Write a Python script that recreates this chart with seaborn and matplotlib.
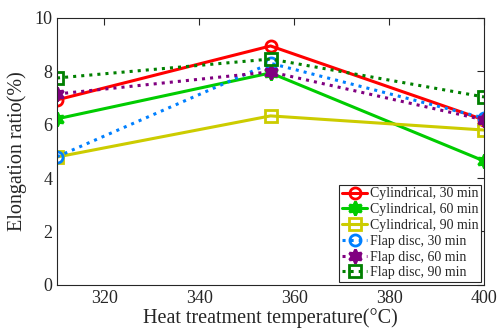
import matplotlib
matplotlib.use("Agg")
import matplotlib.pyplot as plt
import numpy as np
import pandas as pd
import seaborn as sns

temps = [310, 355, 400]
cyl_30 = [6.93, 8.95, 6.18]
cyl_60 = [6.22, 7.94, 4.64]
cyl_90 = [4.79, 6.33, 5.80]
flap_30 = [4.80, 8.30, 6.25]
flap_60 = [7.15, 7.98, 6.18]
flap_90 = [7.75, 8.46, 7.04]

labels = [
    "Cylindrical, 30 min",
    "Cylindrical, 60 min",
    "Cylindrical, 90 min",
    "Flap disc, 30 min",
    "Flap disc, 60 min",
    "Flap disc, 90 min",
]
series = [cyl_30, cyl_60, cyl_90, flap_30, flap_60, flap_90]

# hexagram-ish marker for the 60 min series
hexa = (6, 1, 0)
styles = {
    "Cylindrical, 30 min": dict(color="#FF0000", marker="o", ls="-", mfc="none", ms=8),
    "Cylindrical, 60 min": dict(color="#00CC00", marker=hexa, ls="-", mfc="#00CC00", ms=10),
    "Cylindrical, 90 min": dict(color="#CCCC00", marker="s", ls="-", mfc="none", ms=8),
    "Flap disc, 30 min": dict(color="#0080FF", marker="o", ls=":", mfc="none", ms=8),
    "Flap disc, 60 min": dict(color="#800080", marker=hexa, ls=":", mfc="#800080", ms=10),
    "Flap disc, 90 min": dict(color="#008000", marker="s", ls=":", mfc="none", ms=8),
}

df = pd.DataFrame(
    [(t, v, lab) for lab, vals in zip(labels, series) for t, v in zip(temps, vals)],
    columns=["temp", "elong", "group"],
)

sns.set_style("white")
plt.rcParams["font.family"] = ["Liberation Serif", "DejaVu Serif"]

fig = plt.figure(figsize=(4.98, 3.32), dpi=100)
ax = fig.add_axes([0.1145, 0.142, 0.8575, 0.804])

for lab in labels:
    st = styles[lab]
    sub = df[df["group"] == lab]
    sns.lineplot(
        data=sub, x="temp", y="elong", ax=ax, label=lab,
        color=st["color"], linestyle=st["ls"], linewidth=2.2,
        marker=st["marker"], markersize=st["ms"], markerfacecolor=st["mfc"],
        markeredgecolor=st["color"], markeredgewidth=2,
    )

ax.set_xlim(310, 400)
ax.set_ylim(0, 10)
ax.set_xticks([320, 340, 360, 380, 400])
ax.set_yticks([0, 2, 4, 6, 8, 10])
ax.set_xlabel("Heat treatment temperature(°C)", fontsize=14.5, labelpad=1, color="#262626")
ax.set_ylabel("Elongation ratio(%)", fontsize=14.5, labelpad=5, color="#262626")
ax.tick_params(direction="in", top=True, right=True, labelsize=13, length=5, width=0.8,
               labelcolor="#262626")
for sp in ax.spines.values():
    sp.set_color("#262626")
    sp.set_linewidth(0.8)

leg = ax.legend(loc="lower right", fontsize=10, frameon=True, fancybox=False,
                borderpad=0.2, labelspacing=0.2, handlelength=1.8,
                handletextpad=0.2, borderaxespad=0.2)
leg.get_frame().set_edgecolor("#262626")
leg.get_frame().set_linewidth(0.8)
leg.get_frame().set_alpha(1)

fig.savefig("out.png", dpi=100)
